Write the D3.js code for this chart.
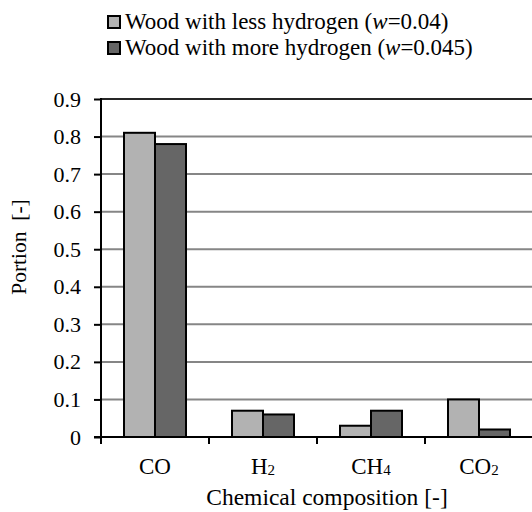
<!DOCTYPE html>
<html><head><meta charset="UTF-8">
<script src="https://cdnjs.cloudflare.com/ajax/libs/d3/7.8.5/d3.min.js"></script></head>
<body style="margin:0">
<script>
// data
var categories = ["CO", "H2", "CH4", "CO2"];
var seriesNames = ["less", "more"];
var lessHydrogen = [0.81, 0.07, 0.03, 0.10];
var moreHydrogen = [0.78, 0.06, 0.07, 0.02];
var yTicks = [0, 0.1, 0.2, 0.3, 0.4, 0.5, 0.6, 0.7, 0.8, 0.9];

var colours = { less: "#b2b2b2", more: "#666666" };
var serif = "Liberation Serif";

var width = 532, height = 512,
    margin = { top: 99, right: -1, bottom: 75, left: 101 },
    innerW = width - margin.left - margin.right,
    innerH = height - margin.top - margin.bottom;

var svg = d3.select("body").append("svg")
    .attr("width", width)
    .attr("height", height);

var g = svg.append("g")
    .attr("transform", "translate(" + margin.left + "," + margin.top + ")");

var x = d3.scaleBand()
    .domain(categories)
    .range([0, innerW]);

var x1 = d3.scaleBand()
    .domain(seriesNames)
    .range([0, 62])
    .padding(0);

var y = d3.scaleLinear()
    .domain([0, 0.9])
    .range([innerH, 0]);

// gridlines
g.append("g")
  .selectAll("line")
  .data(yTicks.filter(function (d) { return d > 0 && d < 0.9; }))
  .enter().append("line")
    .attr("x1", 0).attr("x2", innerW + 5)
    .attr("y1", function (d) { return y(d); })
    .attr("y2", function (d) { return y(d); })
    .attr("stroke", "#868686").attr("stroke-width", 2);

// top border line
g.append("line")
  .attr("x1", 0).attr("x2", innerW + 5)
  .attr("y1", y(0.9)).attr("y2", y(0.9))
  .attr("stroke", "#262626").attr("stroke-width", 2);

// bars
var rows = categories.map(function (c, i) {
  return { cat: c, values: [
    { key: "less", v: lessHydrogen[i] },
    { key: "more", v: moreHydrogen[i] }
  ] };
});

var groups = g.selectAll("g.cat")
  .data(rows)
  .enter().append("g")
    .attr("class", "cat")
    .attr("transform", function (d) {
      return "translate(" + (x(d.cat) + (x.bandwidth() - 62) / 2) + ",0)";
    });

groups.selectAll("rect")
  .data(function (d) { return d.values; })
  .enter().append("rect")
    .attr("x", function (d) { return x1(d.key); })
    .attr("width", x1.bandwidth())
    .attr("y", function (d) { return y(d.v); })
    .attr("height", function (d) { return innerH - y(d.v); })
    .attr("fill", function (d) { return colours[d.key]; })
    .attr("stroke", "#000").attr("stroke-width", 2);

// y axis
var yAxis = g.append("g")
  .call(d3.axisLeft(y).tickValues(yTicks).tickSize(7).tickPadding(13)
    .tickFormat(function (d) { return d === 0 ? "0" : d3.format(".1f")(d); }));
yAxis.attr("font-family", serif).attr("font-size", 22);
yAxis.select(".domain").remove();
yAxis.selectAll(".tick line").attr("stroke", "#000").attr("stroke-width", 2);
yAxis.selectAll(".tick text")
  .attr("fill", "#000")
  .attr("font-family", serif)
  .attr("font-size", 22);
g.append("line")
  .attr("x1", 0).attr("x2", 0).attr("y1", -1).attr("y2", innerH + 1)
  .attr("stroke", "#000").attr("stroke-width", 2);

// x axis
g.append("line")
  .attr("x1", -7).attr("x2", innerW + 5).attr("y1", innerH).attr("y2", innerH)
  .attr("stroke", "#000").attr("stroke-width", 2);
g.append("g").selectAll("line")
  .data(categories)
  .enter().append("line")
    .attr("x1", function (d) { return x(d); })
    .attr("x2", function (d) { return x(d); })
    .attr("y1", innerH).attr("y2", innerH + 7)
    .attr("stroke", "#000").attr("stroke-width", 2);

// category labels with subscripts
var labels = g.append("g").selectAll("text")
  .data(categories)
  .enter().append("text")
    .attr("x", function (d) { return x(d) + x.bandwidth() / 2; })
    .attr("y", innerH + 37)
    .attr("text-anchor", "middle")
    .attr("font-family", serif)
    .attr("font-size", 23);
labels.each(function (d) {
  var t = d3.select(this);
  var m = d.match(/^([A-Z]+)(\d*)$/);
  t.append("tspan").text(m[1]);
  if (m[2]) t.append("tspan").attr("font-size", 15).attr("dy", 1).text(m[2]);
});

// axis titles
svg.append("text")
  .attr("x", 327).attr("y", 505)
  .attr("text-anchor", "middle")
  .attr("font-family", serif)
  .attr("font-size", 23.5)
  .text("Chemical composition [-]");

svg.append("text")
  .attr("transform", "translate(26,247) rotate(-90)")
  .attr("text-anchor", "middle")
  .attr("font-family", serif)
  .attr("font-size", 21.5)
  .text("Portion\u00a0\u00a0[-]");

// legend
var legendItems = [
  { key: "less", label: "Wood with less hydrogen (", w: "=0.04)" },
  { key: "more", label: "Wood with more hydrogen (", w: "=0.045)" }
];
var legend = svg.append("g").selectAll("g")
  .data(legendItems)
  .enter().append("g")
    .attr("transform", function (d, i) { return "translate(108," + (16 + i * 26) + ")"; });
legend.append("rect")
  .attr("width", 12).attr("height", 12)
  .attr("fill", function (d) { return colours[d.key]; })
  .attr("stroke", "#000").attr("stroke-width", 2);
var lt = legend.append("text")
  .attr("x", 17).attr("y", 13)
  .attr("font-family", serif)
  .attr("font-size", 23);
lt.append("tspan").text(function (d) { return d.label; });
lt.append("tspan").attr("font-style", "italic").text("w");
lt.append("tspan").text(function (d) { return d.w; });
</script>
</body>
</html>
